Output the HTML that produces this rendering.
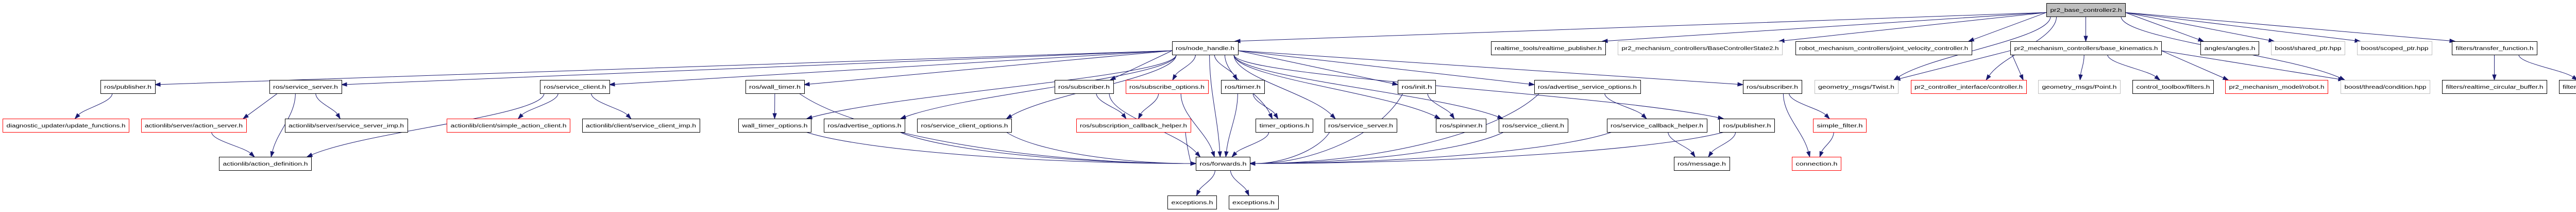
<!DOCTYPE html>
<html><head><meta charset="utf-8"><style>
html,body{margin:0;padding:0;background:#fff;}
svg{display:block}
text{font-family:"Liberation Sans",Arial,sans-serif;font-size:10px;fill:#000;text-anchor:middle}
.b{fill:#fff;stroke:#000;stroke-width:1}
.r{fill:#fff;stroke:#ff0000;stroke-width:1}
.g{fill:#fff;stroke:#bfbfbf;stroke-width:1}
.root{fill:#bfbfbf;stroke:#000;stroke-width:1}
.e{fill:none;stroke:#191970;stroke-width:1}
.a{fill:#191970;stroke:#191970}
</style></head><body>
<svg id="s" width="5108" height="411" viewBox="0 0 5108 411" xmlns="http://www.w3.org/2000/svg">
<g id="edges"></g>
<g id="nodes">
<rect class="root" x="3972.5" y="6.5" width="153" height="26"/><text x="4049" y="23" textLength="139" lengthAdjust="spacingAndGlyphs">pr2_base_controller2.h</text>
<rect class="b" x="2275.5" y="80.5" width="128" height="26"/><text x="2339" y="97" textLength="114" lengthAdjust="spacingAndGlyphs">ros/node_handle.h</text>
<rect class="b" x="2894.5" y="80.5" width="222" height="26"/><text x="3005" y="97" textLength="208" lengthAdjust="spacingAndGlyphs">realtime_tools/realtime_publisher.h</text>
<rect class="g" x="3140.5" y="80.5" width="319" height="26"/><text x="3300" y="97" textLength="305" lengthAdjust="spacingAndGlyphs">pr2_mechanism_controllers/BaseControllerState2.h</text>
<rect class="b" x="3485.5" y="80.5" width="342" height="26"/><text x="3656" y="97" textLength="328" lengthAdjust="spacingAndGlyphs">robot_mechanism_controllers/joint_velocity_controller.h</text>
<rect class="b" x="3902.5" y="80.5" width="293" height="26"/><text x="4049" y="97" textLength="279" lengthAdjust="spacingAndGlyphs">pr2_mechanism_controllers/base_kinematics.h</text>
<rect class="b" x="4271.5" y="80.5" width="113" height="26"/><text x="4328" y="97" textLength="99" lengthAdjust="spacingAndGlyphs">angles/angles.h</text>
<rect class="g" x="4408.5" y="80.5" width="143" height="26"/><text x="4480" y="97" textLength="129" lengthAdjust="spacingAndGlyphs">boost/shared_ptr.hpp</text>
<rect class="g" x="4575.5" y="80.5" width="145" height="26"/><text x="4648" y="97" textLength="131" lengthAdjust="spacingAndGlyphs">boost/scoped_ptr.hpp</text>
<rect class="b" x="4759.5" y="80.5" width="165" height="26"/><text x="4842" y="97" textLength="151" lengthAdjust="spacingAndGlyphs">filters/transfer_function.h</text>
<rect class="b" x="195.5" y="155.5" width="106" height="26"/><text x="248" y="172" textLength="92" lengthAdjust="spacingAndGlyphs">ros/publisher.h</text>
<rect class="b" x="523.5" y="155.5" width="140" height="26"/><text x="593" y="172" textLength="126" lengthAdjust="spacingAndGlyphs">ros/service_server.h</text>
<rect class="b" x="1048.5" y="155.5" width="135" height="26"/><text x="1116" y="172" textLength="121" lengthAdjust="spacingAndGlyphs">ros/service_client.h</text>
<rect class="b" x="1447.5" y="155.5" width="114" height="26"/><text x="1504" y="172" textLength="100" lengthAdjust="spacingAndGlyphs">ros/wall_timer.h</text>
<rect class="b" x="2047.5" y="155.5" width="114" height="26"/><text x="2104" y="172" textLength="100" lengthAdjust="spacingAndGlyphs">ros/subscriber.h</text>
<rect class="r" x="2185.5" y="155.5" width="160" height="26"/><text x="2265" y="172" textLength="146" lengthAdjust="spacingAndGlyphs">ros/subscribe_options.h</text>
<rect class="b" x="2370.5" y="155.5" width="84" height="26"/><text x="2412" y="172" textLength="70" lengthAdjust="spacingAndGlyphs">ros/timer.h</text>
<rect class="b" x="2713.5" y="155.5" width="73" height="26"/><text x="2750" y="172" textLength="59" lengthAdjust="spacingAndGlyphs">ros/init.h</text>
<rect class="b" x="2978.5" y="155.5" width="206" height="26"/><text x="3081" y="172" textLength="192" lengthAdjust="spacingAndGlyphs">ros/advertise_service_options.h</text>
<rect class="b" x="3383.5" y="155.5" width="114" height="26"/><text x="3440" y="172" textLength="100" lengthAdjust="spacingAndGlyphs">ros/subscriber.h</text>
<rect class="g" x="3522.5" y="155.5" width="162" height="26"/><text x="3603" y="172" textLength="148" lengthAdjust="spacingAndGlyphs">geometry_msgs/Twist.h</text>
<rect class="r" x="3709.5" y="155.5" width="224" height="26"/><text x="3821" y="172" textLength="210" lengthAdjust="spacingAndGlyphs">pr2_controller_interface/controller.h</text>
<rect class="g" x="3956.5" y="155.5" width="159" height="26"/><text x="4036" y="172" textLength="145" lengthAdjust="spacingAndGlyphs">geometry_msgs/Point.h</text>
<rect class="b" x="4139.5" y="155.5" width="157" height="26"/><text x="4218" y="172" textLength="143" lengthAdjust="spacingAndGlyphs">control_toolbox/filters.h</text>
<rect class="r" x="4319.5" y="155.5" width="199" height="26"/><text x="4419" y="172" textLength="185" lengthAdjust="spacingAndGlyphs">pr2_mechanism_model/robot.h</text>
<rect class="g" x="4543.5" y="155.5" width="173" height="26"/><text x="4630" y="172" textLength="159" lengthAdjust="spacingAndGlyphs">boost/thread/condition.hpp</text>
<rect class="b" x="4740.5" y="155.5" width="203" height="26"/><text x="4842" y="172" textLength="189" lengthAdjust="spacingAndGlyphs">filters/realtime_circular_buffer.h</text>
<rect class="b" x="4967.5" y="155.5" width="128" height="26"/><text x="5031" y="172" textLength="114" lengthAdjust="spacingAndGlyphs">filters/filter_base.h</text>
<rect class="r" x="5.5" y="230.5" width="245" height="26"/><text x="128" y="247" textLength="231" lengthAdjust="spacingAndGlyphs">diagnostic_updater/update_functions.h</text>
<rect class="r" x="274.5" y="230.5" width="204" height="26"/><text x="376" y="247" textLength="190" lengthAdjust="spacingAndGlyphs">actionlib/server/action_server.h</text>
<rect class="b" x="553.5" y="230.5" width="238" height="26"/><text x="672" y="247" textLength="224" lengthAdjust="spacingAndGlyphs">actionlib/server/service_server_imp.h</text>
<rect class="r" x="867.5" y="230.5" width="239" height="26"/><text x="987" y="247" textLength="225" lengthAdjust="spacingAndGlyphs">actionlib/client/simple_action_client.h</text>
<rect class="b" x="1130.5" y="230.5" width="228" height="26"/><text x="1244" y="247" textLength="214" lengthAdjust="spacingAndGlyphs">actionlib/client/service_client_imp.h</text>
<rect class="b" x="1433.5" y="230.5" width="141" height="26"/><text x="1504" y="247" textLength="127" lengthAdjust="spacingAndGlyphs">wall_timer_options.h</text>
<rect class="b" x="1599.5" y="230.5" width="157" height="26"/><text x="1678" y="247" textLength="143" lengthAdjust="spacingAndGlyphs">ros/advertise_options.h</text>
<rect class="b" x="1780.5" y="230.5" width="183" height="26"/><text x="1872" y="247" textLength="169" lengthAdjust="spacingAndGlyphs">ros/service_client_options.h</text>
<rect class="r" x="2089.5" y="230.5" width="222" height="26"/><text x="2200" y="247" textLength="208" lengthAdjust="spacingAndGlyphs">ros/subscription_callback_helper.h</text>
<rect class="b" x="2437.5" y="230.5" width="111" height="26"/><text x="2493" y="247" textLength="97" lengthAdjust="spacingAndGlyphs">timer_options.h</text>
<rect class="b" x="2571.5" y="230.5" width="140" height="26"/><text x="2641" y="247" textLength="126" lengthAdjust="spacingAndGlyphs">ros/service_server.h</text>
<rect class="b" x="2787.5" y="230.5" width="97" height="26"/><text x="2836" y="247" textLength="83" lengthAdjust="spacingAndGlyphs">ros/spinner.h</text>
<rect class="b" x="2909.5" y="230.5" width="134" height="26"/><text x="2976" y="247" textLength="120" lengthAdjust="spacingAndGlyphs">ros/service_client.h</text>
<rect class="b" x="3119.5" y="230.5" width="194" height="26"/><text x="3216" y="247" textLength="180" lengthAdjust="spacingAndGlyphs">ros/service_callback_helper.h</text>
<rect class="b" x="3337.5" y="230.5" width="107" height="26"/><text x="3391" y="247" textLength="93" lengthAdjust="spacingAndGlyphs">ros/publisher.h</text>
<rect class="r" x="3519.5" y="230.5" width="103" height="26"/><text x="3571" y="247" textLength="89" lengthAdjust="spacingAndGlyphs">simple_filter.h</text>
<rect class="b" x="425.5" y="304.5" width="179" height="26"/><text x="515" y="321" textLength="165" lengthAdjust="spacingAndGlyphs">actionlib/action_definition.h</text>
<rect class="b" x="2321.5" y="304.5" width="105" height="26"/><text x="2374" y="321" textLength="91" lengthAdjust="spacingAndGlyphs">ros/forwards.h</text>
<rect class="b" x="3249.5" y="304.5" width="108" height="26"/><text x="3303" y="321" textLength="94" lengthAdjust="spacingAndGlyphs">ros/message.h</text>
<rect class="r" x="3478.5" y="304.5" width="95" height="26"/><text x="3526" y="321" textLength="81" lengthAdjust="spacingAndGlyphs">connection.h</text>
<rect class="b" x="2266.5" y="379.5" width="95" height="26"/><text x="2314" y="396" textLength="81" lengthAdjust="spacingAndGlyphs">exceptions.h</text>
<rect class="b" x="2385.5" y="379.5" width="96" height="26"/><text x="2433" y="396" textLength="82" lengthAdjust="spacingAndGlyphs">exceptions.h</text>
</g>
</svg>
<script>
var T=[6,80,155,230,304,379],H=26;
var N={P:[3972,4125,0],NH:[2275,2403,1],RTP:[2894,3116,1],BCS:[3140,3459,1],JVC:[3485,3827,1],BK:[3902,4195,1],ANG:[4271,4384,1],SP:[4408,4551,1],SCP:[4575,4720,1],TF:[4759,4924,1],
PUB1:[195,301,2],SS1:[523,663,2],SC1:[1048,1183,2],WT:[1447,1561,2],SUB1:[2047,2161,2],SO:[2185,2345,2],TM:[2370,2454,2],INIT:[2713,2786,2],ASO:[2978,3184,2],SUB2:[3383,3497,2],TW:[3522,3684,2],CTRL:[3709,3933,2],PT:[3956,4115,2],FIL:[4139,4296,2],ROB:[4319,4518,2],COND:[4543,4716,2],RCB:[4740,4943,2],FB:[4967,5095,2],
UF:[5,250,3],AS:[274,478,3],SSI:[553,791,3],SAC:[867,1106,3],SCI:[1130,1358,3],WTO:[1433,1574,3],AO:[1599,1756,3],SCO:[1780,1963,3],SCH:[2089,2311,3],TO:[2437,2548,3],SS2:[2571,2711,3],SPIN:[2787,2884,3],SC2:[2909,3043,3],SVCH:[3119,3313,3],PUB2:[3337,3444,3],SF:[3519,3622,3],
AD:[425,604,4],FW:[2321,2426,4],MSG:[3249,3357,4],CON:[3478,3573,4],EX1:[2266,2361,5],EX2:[2385,2481,5]};
var E="P-NH P-RTP P-BCS P-JVC P-BK P-ANG P-SP P-SCP P-TF P-TW P-CTRL P-COND BK-TW BK-CTRL BK-PT BK-FIL BK-ROB BK-COND TF-RCB TF-FB "+
"NH-PUB1 NH-SS1 NH-SC1 NH-WT NH-WTO NH-AO NH-SCO NH-FW NH-SUB1 NH-SO NH-TM NH-TO NH-SS2 NH-INIT NH-SPIN NH-SC2 NH-ASO NH-PUB2 NH-SUB2 "+
"PUB1-UF SS1-AS SS1-AD SS1-SSI AS-AD SC1-AD SC1-SAC SC1-SCI WT-WTO WT-FW WTO-FW AO-FW SCO-FW SUB1-FW SUB1-SCH SO-SCH SO-FW TM-FW TM-TO SCH-FW TO-FW "+
"SS2-FW INIT-FW INIT-SPIN SC2-FW ASO-FW ASO-SVCH SVCH-FW SVCH-MSG PUB2-FW PUB2-MSG SUB2-CON SUB2-SF SF-CON FW-EX1 FW-EX2";
var g=document.getElementById('edges'),out='';
function cl(v,a,b){return Math.max(a,Math.min(b,v));}
E.split(' ').forEach(function(p){
 var k=p.split('-'),s=N[k[0]],t=N[k[1]];
 var scx=(s[0]+s[1])/2,tcx=(t[0]+t[1])/2,sy=T[s[2]]+H,ty=T[t[2]],dy=ty-sy;
 var adj=(t[2]-s[2]==1);
 var sx=cl(scx+(tcx-scx)*0.25,s[0]+8,s[1]-8),ex,ey,mode=0;
 var far=Math.abs(tcx-sx);
 if(k[1]=='FW' && far>2*dy){
   sx=cl(tcx<scx?s[0]+10:s[1]-10,s[0]+8,s[1]-8);
   ex=tcx<sx?t[1]:t[0]; ey=ty+H/2; mode=2;
 } else if(adj && far>3*dy){
   if(s[2]<=1){ if(tcx<s[0]){sx=s[0];sy=T[s[2]]+H*0.7;} else if(tcx>s[1]){sx=s[1];sy=T[s[2]]+H*0.7;} }
   if(k[0]=='NH' && far>6*dy){ex=tcx<sx?t[1]:t[0];ey=ty+H*0.35;}
   else{ex=tcx<sx?t[1]-6:t[0]+6;ey=ty;}
   mode=1;
 } else {
   ex=cl(tcx+(sx-tcx)*0.2,t[0]+8,t[1]-8); ey=ty;
 }
 var d=ey-sy,c1x,c1y,c2x,c2y;
 if(mode==1){c1x=sx+(ex-sx)*0.33;c1y=sy+d*0.33;c2x=sx+(ex-sx)*0.67;c2y=sy+d*0.67;}
 else if(mode==2){c1x=sx+(ex-sx)*0.15;c1y=sy+d*0.6;c2x=sx+(ex-sx)*0.6;c2y=ey;}
 else{c1x=sx;c1y=sy+d*0.35;c2x=ex+(sx-ex)*0.25;c2y=ey-d*0.4;}
 var vx=ex-c2x,vy=ey-c2y,L=Math.hypot(vx,vy)||1;vx/=L;vy/=L;
 var bx=ex-vx*10,by=ey-vy*10;
 out+='<path class="e" d="M'+sx+','+sy+' C'+c1x+','+c1y+' '+c2x+','+c2y+' '+bx+','+by+'"/>';
 out+='<polygon class="a" points="'+ex+','+ey+' '+(bx-vy*3.5)+','+(by+vx*3.5)+' '+(bx+vy*3.5)+','+(by-vx*3.5)+'"/>';
});
g.innerHTML=out;
</script>
</body></html>
